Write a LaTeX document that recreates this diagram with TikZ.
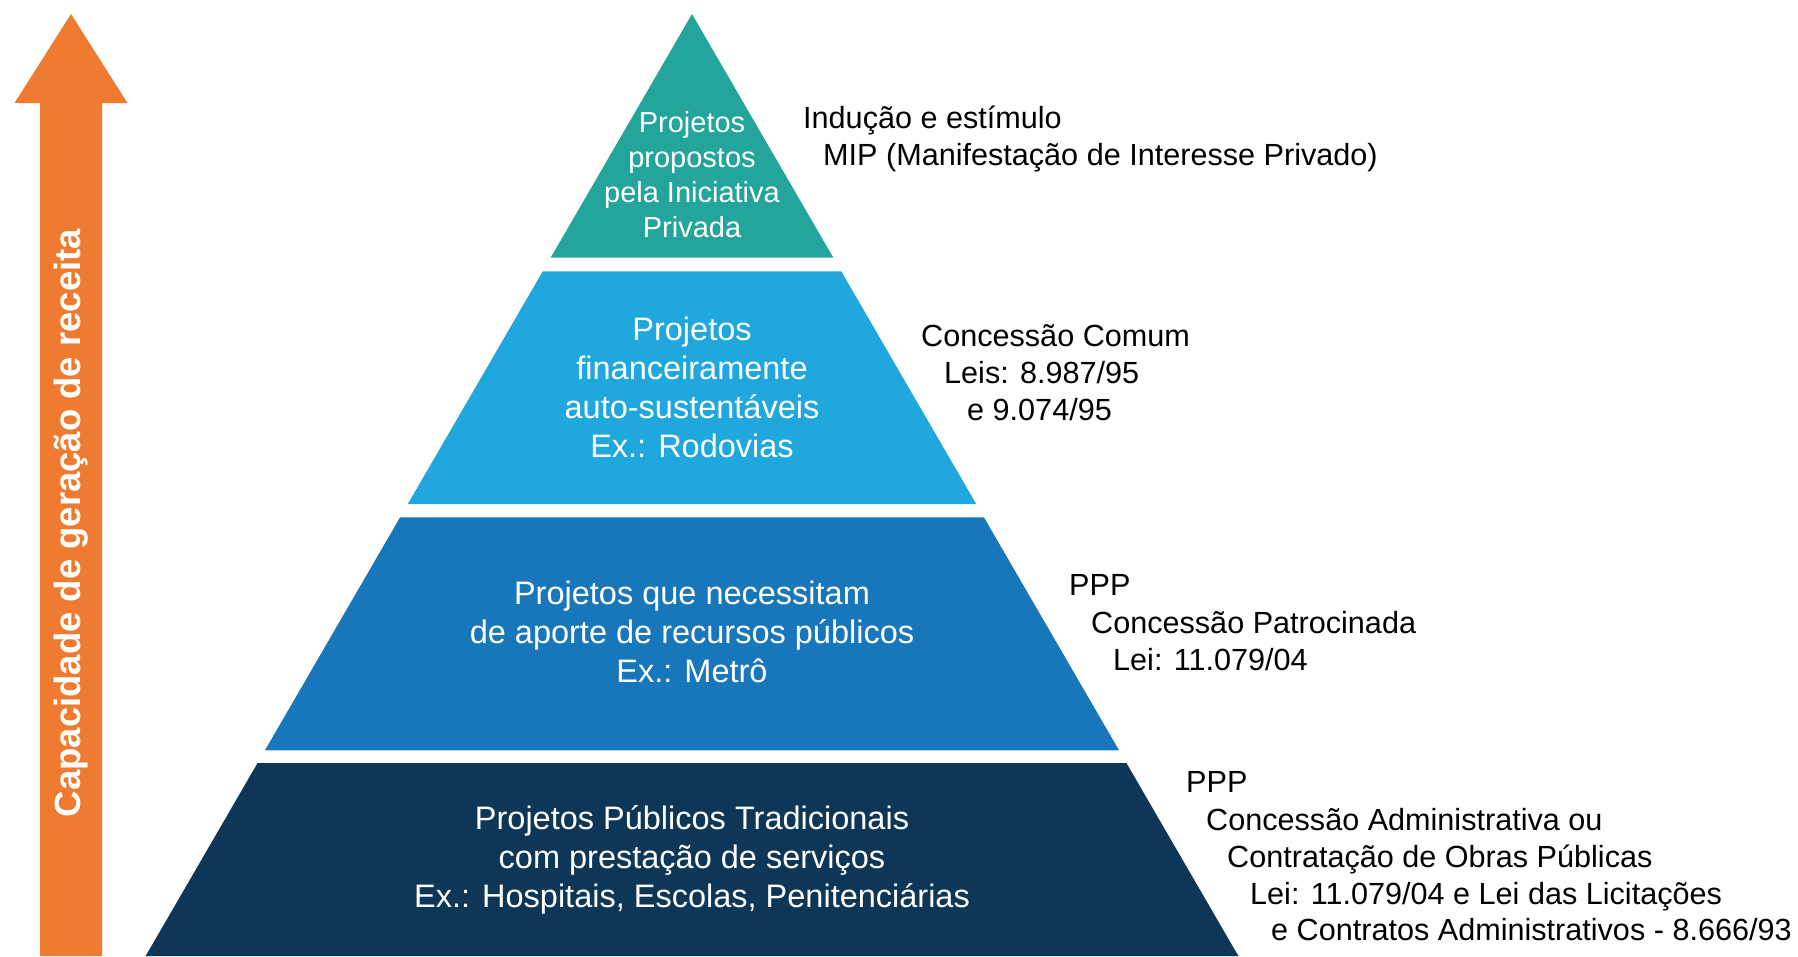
\documentclass[tikz,border=0pt]{standalone}
\usepackage{fontspec}
\setmainfont{Liberation Sans}
\usepackage{tikz}
\usetikzlibrary{calc, positioning}
\definecolor{tealtop}{HTML}{23A59C}
\definecolor{lightblue}{HTML}{20A8DE}
\definecolor{midblue}{HTML}{1877BB}
\definecolor{navyblue}{HTML}{0E3656}
\definecolor{arroworange}{HTML}{EE7B2F}

\begin{document}
\begin{tikzpicture}[
		x=1pt, y=-1pt,
		tierlabel/.style={text=white, align=center, inner sep=0pt, font=\fontsize{32.5}{39}\selectfont},
		note/.style={anchor=base west, inner sep=0pt, font=\fontsize{30.6}{36}\selectfont},
		]

		\useasboundingbox (0,0) rectangle (1798,956);

		% apex of the pyramid and slope of its sides
		\def\apx{692}
		\def\apy{14}
		\def\slope{0.58}

		% --- Pyramid ---
		\fill[tealtop] (\apx,\apy) -- ({\apx+\slope*(257.7-\apy)},257.7) -- ({\apx-\slope*(257.7-\apy)},257.7) -- cycle;
		\foreach \top/\bot/\col in {271.3/504/lightblue, 517.3/750.3/midblue, 763/956/navyblue}{
			\fill[\col] ({\apx-\slope*(\top-\apy)},\top) -- ({\apx+\slope*(\top-\apy)},\top)
				-- ({\apx+\slope*(\bot-\apy)},\bot) -- ({\apx-\slope*(\bot-\apy)},\bot) -- cycle;
		}

		\node[tierlabel, font=\fontsize{29}{35}\selectfont] (tier1) at (\apx,175) {Projetos\\propostos\\pela Iniciativa\\Privada};
		\node[tierlabel] (tier2) at (\apx,387.5) {Projetos\\financeiramente\\auto-sustentáveis\\Ex.: Rodovias};
		\node[tierlabel] (tier3) at (\apx,632) {Projetos que necessitam\\de aporte de recursos públicos\\Ex.: Metrô};
		\node[tierlabel] (tier4) at (\apx,860) {Projetos Públicos Tradicionais\\com prestação de serviços\\Ex.: Hospitais, Escolas, Penitenciárias};

		% --- Arrow ---
		\fill[arroworange] (40,956) -- (40,103) -- (14.5,103) -- (71,14) -- (127.5,103) -- (102,103) -- (102,956) -- cycle;
		\node[rotate=90, text=white, inner sep=0pt, font=\fontsize{36.5}{40}\selectfont\bfseries] (receita) at (71,523) {Capacidade de geração de receita};

		% --- Notes ---
		\node[note] (mip1) at (803,128) {Indução e estímulo};
		\node[note] (mip2) at (823,165) {MIP (Manifestação de Interesse Privado)};

		\node[note] (com1) at (921,346) {Concessão Comum};
		\node[note] (com2) at (944,383) {Leis: 8.987/95};
		\node[note] (com3) at (967,420) {e 9.074/95};

		\node[note] (pat1) at (1069,595) {PPP};
		\node[note] (pat2) at (1091,633) {Concessão Patrocinada};
		\node[note] (pat3) at (1113,670) {Lei: 11.079/04};

		\node[note] (adm1) at (1186,792) {PPP};
		\node[note] (adm2) at (1206,830) {Concessão Administrativa ou};
		\node[note] (adm3) at (1227,867) {Contratação de Obras Públicas};
		\node[note] (adm4) at (1250,904) {Lei: 11.079/04 e Lei das Licitações};
		\node[note] (adm5) at (1271,940) {e Contratos Administrativos - 8.666/93};

	\end{tikzpicture}
\end{document}
